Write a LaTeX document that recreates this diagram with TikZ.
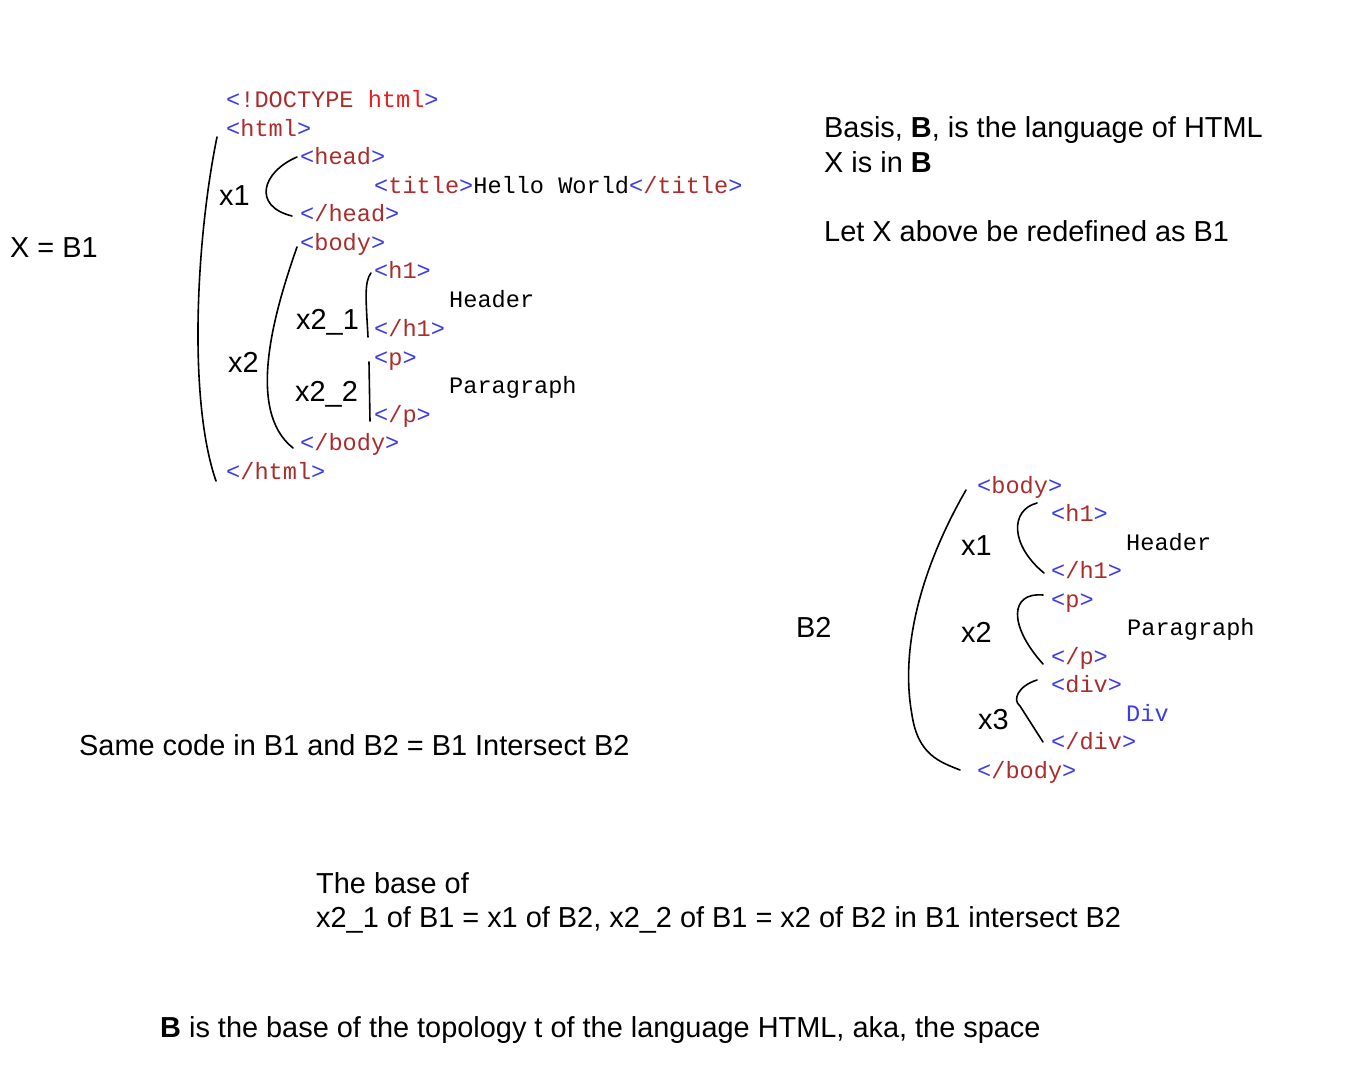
\documentclass[tikz,border=0pt]{standalone}
\usepackage{fontspec}
\setmainfont{Liberation Sans}
\newfontfamily\monofnt{Liberation Mono}
\definecolor{tb}{RGB}{60,60,235}
\definecolor{tn}{RGB}{170,45,45}
\definecolor{tr}{RGB}{235,30,30}
\newcommand\otag[1]{\textcolor{tb}{<}\textcolor{tn}{#1}\textcolor{tb}{>}}
\newcommand\ctag[1]{\textcolor{tb}{<}\textcolor{tn}{/#1}\textcolor{tb}{>}}
\tikzset{
  code/.style={anchor=base west, inner sep=0pt, font=\monofnt\fontsize{23.6}{28}\selectfont},
  lbl/.style={anchor=base west, inner sep=0pt, font=\fontsize{28.9}{34}\selectfont},
  brk/.style={draw=black, line width=1.6pt, line cap=round}
}
\begin{document}
\begin{tikzpicture}[x=1pt,y=-1pt]
\useasboundingbox[fill=white] (0,0) rectangle (1360,1075);
% left code block
\node[code] (doc) at (226,108) {\textcolor{tb}{<}\textcolor{tn}{!DOCTYPE} \textcolor{tr}{html}\textcolor{tb}{>}};
\node[code] (html) at (226,137) {\otag{html}};
\node[code] (head) at (300,165) {\otag{head}};
\node[code] (title) at (374,194) {\otag{title}Hello World\ctag{title}};
\node[code] (chead) at (300,222) {\ctag{head}};
\node[code] (body) at (300,251) {\otag{body}};
\node[code] (h1) at (374,279) {\otag{h1}};
\node[code] (hdr) at (449,308) {Header};
\node[code] (ch1) at (374,336) {\ctag{h1}};
\node[code] (p) at (374,365) {\otag{p}};
\node[code] (para) at (449,393) {Paragraph};
\node[code] (cp) at (374,422) {\ctag{p}};
\node[code] (cbody) at (300,450) {\ctag{body}};
\node[code] (chtml) at (226,479) {\ctag{html}};
% right code block
\node[code] (rbody) at (977,493) {\otag{body}};
\node[code] (rh1) at (1051,521) {\otag{h1}};
\node[code] (rhdr) at (1126,550) {Header};
\node[code] (rch1) at (1051,578) {\ctag{h1}};
\node[code] (rp) at (1051,607) {\otag{p}};
\node[code] (rpara) at (1127,635) {Paragraph};
\node[code] (rcp) at (1051,664) {\ctag{p}};
\node[code] (rdiv) at (1051,692) {\otag{div}};
\node[code] (rdivt) at (1126,721) {\textcolor{tb}{Div}};
\node[code] (rcdiv) at (1051,749) {\ctag{div}};
\node[code] (rcbody) at (977,778) {\ctag{body}};
% labels
\node[lbl] (xb1) at (10,258) {X = B1};
\node[lbl] (lx1) at (219,206) {x1};
\node[lbl] (lx2) at (228,372) {x2};
\node[lbl] (lx21) at (296,330) {x2\_1};
\node[lbl] (lx22) at (295,401) {x2\_2};
\node[lbl] (basis) at (824,138) {Basis, \textbf{B}, is the language of HTML};
\node[lbl] (xin) at (824,173) {X is in \textbf{B}};
\node[lbl] (letx) at (824,242) {Let X above be redefined as B1};
\node[lbl] (b2) at (796,637) {B2};
\node[lbl] (rx1) at (961,555) {x1};
\node[lbl] (rx2) at (961,642) {x2};
\node[lbl] (rx3) at (978,729) {x3};
\node[lbl] (same) at (79,755) {Same code in B1 and B2 = B1 Intersect B2};
\node[lbl] (base1) at (316,893) {The base of};
\node[lbl] (base2) at (316,927) {x2\_1 of B1 = x1 of B2, x2\_2 of B1 = x2 of B2 in B1 intersect B2};
\node[lbl] (topo) at (160,1037) {\textbf{B} is the base of the topology t of the language HTML, aka, the space};
% brackets left
\draw[brk] (217,137) .. controls (196,240) and (188,400) .. (216,481);
\draw[brk] (297,157) .. controls (262,172) and (252,206) .. (292,216);
\draw[brk] (297,247) .. controls (275,310) and (245,410) .. (293,448);
\draw[brk] (371,273) .. controls (364,282) and (366,300) .. (368,337);
\draw[brk] (369,362) -- (370,421);
% brackets right
\draw[brk] (966,490) .. controls (920,570) and (900,650) .. (912,715) .. controls (918,755) and (940,762) .. (960,770);
\draw[brk] (1037,503) .. controls (1010,510) and (1010,545) .. (1044,573);
\draw[brk] (1043,595) .. controls (1010,592) and (1008,625) .. (1043,664);
\draw[brk] (1037,680) .. controls (1018,686) and (1012,700) .. (1020,706) -- (1043,742);
\end{tikzpicture}
\end{document}
